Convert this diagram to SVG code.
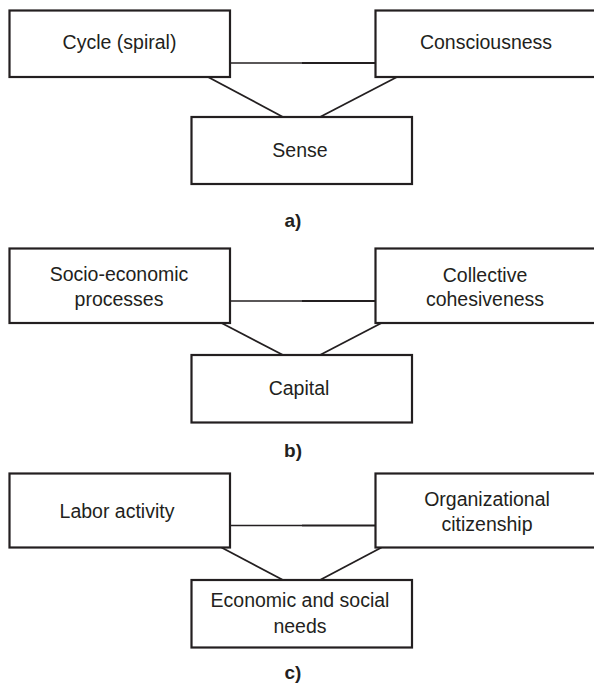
<svg xmlns="http://www.w3.org/2000/svg" width="594" height="684" viewBox="0 0 594 684">
  <style>
    .box { fill: #ffffff; stroke: #231f20; stroke-width: 2.2; }
    .link { fill: none; stroke: #231f20; stroke-width: 1.8; }
    .link-thin { fill: none; stroke: #231f20; stroke-width: 1.4; }
    .label { font-family: "Liberation Sans", Arial, sans-serif; font-size: 19.5px; fill: #231f20; text-anchor: middle; }
    .caption { font-family: "Liberation Sans", Arial, sans-serif; font-size: 19px; font-weight: bold; fill: #231f20; text-anchor: middle; }
  </style>
  <rect width="594" height="684" fill="#ffffff"/>

  <!-- connectors for all three panels -->
  <g id="connectors">
    <!-- panel a -->
    <line class="link-thin" x1="230" y1="63" x2="302" y2="63"/>
    <line class="link" x1="302" y1="63" x2="375" y2="63"/>
    <line class="link" x1="208" y1="77" x2="283" y2="117"/>
    <line class="link" x1="397" y1="77" x2="320" y2="117"/>
    <!-- panel b -->
    <line class="link-thin" x1="230" y1="301" x2="302" y2="301"/>
    <line class="link" x1="302" y1="301" x2="375" y2="301"/>
    <line class="link" x1="221.5" y1="323" x2="283" y2="355"/>
    <line class="link" x1="381.5" y1="323" x2="320" y2="355"/>
    <!-- panel c -->
    <line class="link-thin" x1="230" y1="525.5" x2="302" y2="525.5"/>
    <line class="link" x1="302" y1="525.5" x2="375" y2="525.5"/>
    <line class="link" x1="221.5" y1="547.5" x2="283" y2="580"/>
    <line class="link" x1="381.5" y1="547.5" x2="320" y2="580"/>
  </g>

  <!-- panel a -->
  <g id="cycle">
    <rect class="box" x="9.5" y="10.5" width="220.5" height="66.5"/>
    <text class="label" x="119.5" y="49">Cycle (spiral)</text>
  </g>
  <g id="consciousness">
    <rect class="box" x="375.5" y="10.5" width="222" height="66.5"/>
    <text class="label" x="486" y="48.5">Consciousness</text>
  </g>
  <g id="sense">
    <rect class="box" x="191.5" y="117" width="220.5" height="67"/>
    <text class="label" x="300" y="157">Sense</text>
  </g>
  <text id="caption-a" class="caption" x="293" y="227">a)</text>

  <!-- panel b -->
  <g id="socio-economic">
    <rect class="box" x="9.5" y="248.5" width="220.5" height="74.5"/>
    <text class="label" x="119" y="281">Socio-economic</text>
    <text class="label" x="119" y="306">processes</text>
  </g>
  <g id="collective">
    <rect class="box" x="375.5" y="248.5" width="222" height="74.5"/>
    <text class="label" x="485" y="281.5">Collective</text>
    <text class="label" x="485" y="306">cohesiveness</text>
  </g>
  <g id="capital">
    <rect class="box" x="191.5" y="355" width="220.5" height="67.5"/>
    <text class="label" x="299" y="395">Capital</text>
  </g>
  <text id="caption-b" class="caption" x="293" y="457">b)</text>

  <!-- panel c -->
  <g id="labor">
    <rect class="box" x="9.5" y="473.5" width="220.5" height="74"/>
    <text class="label" x="117" y="518">Labor activity</text>
  </g>
  <g id="citizenship">
    <rect class="box" x="375.5" y="473.5" width="222" height="74"/>
    <text class="label" x="487" y="505.5">Organizational</text>
    <text class="label" x="487" y="531">citizenship</text>
  </g>
  <g id="needs">
    <rect class="box" x="191.5" y="580" width="220.5" height="67.5"/>
    <text class="label" x="300" y="607">Economic and social</text>
    <text class="label" x="300" y="633">needs</text>
  </g>
  <text id="caption-c" class="caption" x="293" y="679">c)</text>
</svg>
